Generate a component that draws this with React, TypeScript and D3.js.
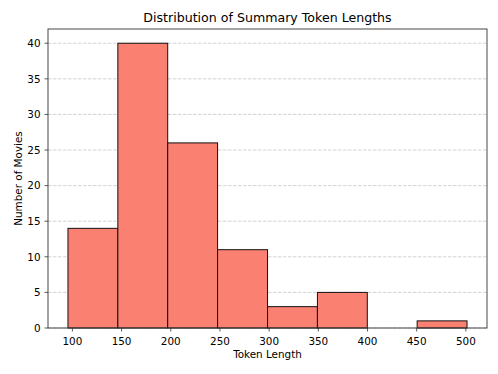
import React from "react";
import * as d3 from "d3";

const binEdges = [95.5, 146.2, 196.9, 247.6, 298.4, 349.1, 399.8, 450.5, 501.2];
const counts = [14, 40, 26, 11, 3, 5, 0, 1];
const xTicks = [100, 150, 200, 250, 300, 350, 400, 450, 500];
const yTicks = [0, 5, 10, 15, 20, 25, 30, 35, 40];

export default function App() {
  const W = 498, H = 374;
  const L = 48, R = 487, T = 29, B = 328;
  const x = d3.scaleLinear().domain([75.2, 521.5]).range([L, R]);
  const y = d3.scaleLinear().domain([0, 42]).range([B, T]);
  const font = "DejaVu Sans, sans-serif";
  const fs = 10.4;
  return (
    <svg width={W} height={H} style={{ position: "absolute", left: 0, top: 0 }} fontFamily={font}>
      <rect width={W} height={H} fill="#fff" />
      {yTicks.map((t) => (
        <line key={"g" + t} x1={L} x2={R} y1={y(t)} y2={y(t)} stroke="#b0b0b0" strokeOpacity={0.7} strokeDasharray="3.5,1.5" strokeWidth={0.8} />
      ))}
      {counts.map((c, i) =>
        c > 0 ? (
          <rect key={i} x={x(binEdges[i])} y={y(c)} width={x(binEdges[i + 1]) - x(binEdges[i])} height={y(0) - y(c)} fill="#FA8072" stroke="#111" strokeWidth={1} />
        ) : null
      )}
      <rect x={L} y={T} width={R - L} height={B - T} fill="none" stroke="#333" strokeWidth={0.9} />
      {xTicks.map((t) => (
        <g key={"x" + t}>
          <line x1={x(t)} x2={x(t)} y1={B} y2={B + 3.5} stroke="#333" strokeWidth={0.8} />
          <text x={x(t)} y={B + 16.5} textAnchor="middle" fontSize={fs} fill="#000">{t}</text>
        </g>
      ))}
      {yTicks.map((t) => (
        <g key={"y" + t}>
          <line x1={L - 3.5} x2={L} y1={y(t)} y2={y(t)} stroke="#333" strokeWidth={0.8} />
          <text x={L - 7.5} y={y(t) + 3.8} textAnchor="end" fontSize={fs} fill="#000">{t}</text>
        </g>
      ))}
      <text x={(L + R) / 2} y={358} textAnchor="middle" fontSize={fs}>Token Length</text>
      <text transform={`translate(21.5,${(T + B) / 2}) rotate(-90)`} textAnchor="middle" fontSize={fs}>Number of Movies</text>
      <text x={(L + R) / 2} y={21.5} textAnchor="middle" fontSize={12.6}>Distribution of Summary Token Lengths</text>
    </svg>
  );
}
